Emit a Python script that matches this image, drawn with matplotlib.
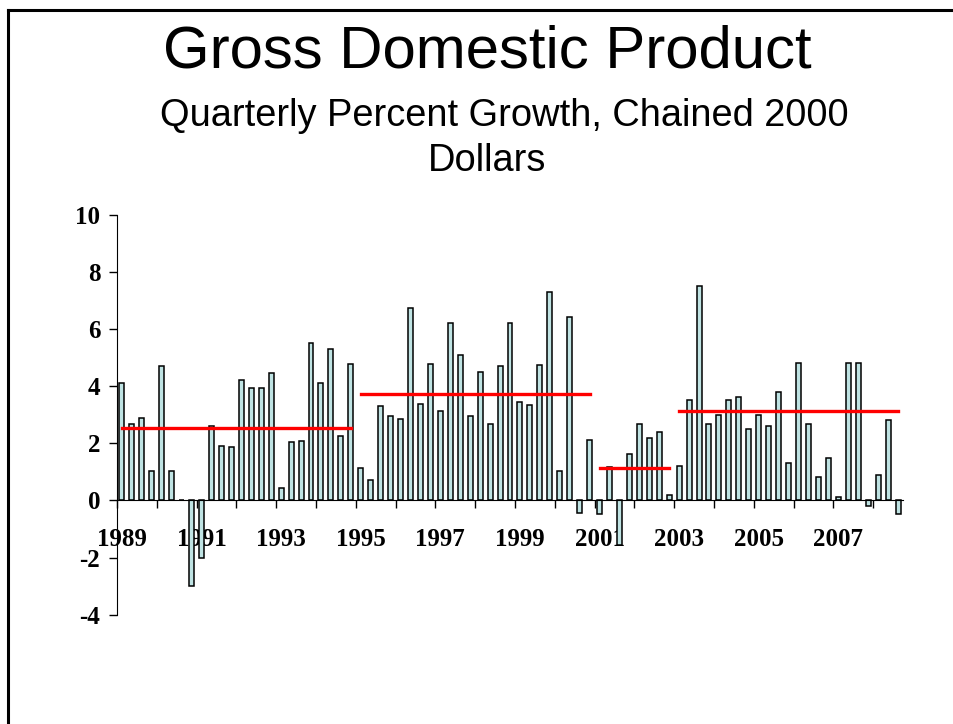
import numpy as np
import matplotlib.pyplot as plt
from matplotlib.lines import Line2D

# quarterly real GDP growth, 1989Q1 .. 2008Q3 (annualised %)
years = list(range(1989, 2009))
growth = [
    4.11, 2.66, 2.88, 1.03,   # 1989
    4.69, 1.03, 0.03, -3.00,  # 1990
    -2.03, 2.62, 1.91, 1.88,  # 1991
    4.20, 3.92, 3.95, 4.46,   # 1992
    0.45, 2.04, 2.07, 5.50,   # 1993
    4.11, 5.30, 2.26, 4.77,   # 1994
    1.12, 0.73, 3.31, 2.96,   # 1995
    2.84, 6.74, 3.39, 4.77,   # 1996
    3.12, 6.22, 5.08, 2.96,   # 1997
    4.50, 2.66, 4.70, 6.22,   # 1998
    3.43, 3.34, 4.73, 7.31,   # 1999
    1.04, 6.42, -0.45, 2.12,  # 2000
    -0.49, 1.18, -1.55, 1.62, # 2001
    2.69, 2.20, 2.39, 0.20,   # 2002
    1.20, 3.50, 7.49, 2.69,   # 2003
    3.00, 3.50, 3.61, 2.51,   # 2004
    3.00, 2.62, 3.80, 1.32,   # 2005
    4.80, 2.69, 0.82, 1.50,   # 2006
    0.13, 4.80, 4.80, -0.19,  # 2007
    0.89, 2.81, -0.49,        # 2008
]

# period averages: (first quarter index, last quarter index, mean)
period_start = [0, 24, 48, 56]
period_end = [23, 47, 55, 78]
period_mean = [2.54, 3.74, 1.12, 3.12]

yticks = [-4, -2, 0, 2, 4, 6, 8, 10]

fig = plt.figure(figsize=(9.54, 7.24), dpi=100)

# slide frame on top and left
fig.add_artist(Line2D([0.0085, 0.0085], [0, 1 - 10 / 724], color='black', lw=2.2))
fig.add_artist(Line2D([0.0085, 1], [1 - 10 / 724, 1 - 10 / 724], color='black', lw=2.2))

fig.text(487.5 / 954, 1 - 52 / 724, 'Gross Domestic Product', ha='center', va='center',
         fontsize=43.2, family='Liberation Sans')
fig.text(504 / 954, 1 - 116 / 724, 'Quarterly Percent Growth, Chained 2000', ha='center',
         va='center', fontsize=27.4, family='Liberation Sans')
fig.text(487.5 / 954, 1 - 161 / 724, 'Dollars', ha='center', va='center',
         fontsize=27.4, family='Liberation Sans')

ax = fig.add_axes([117 / 954, 1 - 614.7 / 724, 786 / 954, 400 / 724])

x = np.arange(len(growth)) + 0.5
ax.bar(x, growth, width=0.5, color='#BFE3E3', edgecolor='black', linewidth=1.1, zorder=2)

for s, e, m in zip(period_start, period_end, period_mean):
    ax.plot([x[s], x[e]], [m, m], color='red', lw=2.4, zorder=3)

ax.set_xlim(0, len(growth))
ax.set_ylim(-4, 10)

ax.spines['top'].set_visible(False)
ax.spines['right'].set_visible(False)
ax.spines['bottom'].set_position(('data', 0))
ax.spines['bottom'].set_zorder(4)

ax.set_yticks(yticks)
ax.set_yticklabels([str(t) for t in yticks], fontsize=18, fontweight='bold',
                   family='Liberation Serif')
ax.tick_params(axis='y', direction='out', length=6, width=1, pad=6)

# tick marks at year boundaries, labels every other year under the first quarter
ax.set_xticks(np.arange(0, len(growth) + 1, 4))
ax.set_xticklabels([])
ax.tick_params(axis='x', which='major', direction='out', length=6, width=1)
lab_years = years[::2]
ax.set_xticks([(y - 1989) * 4 + 0.5 for y in lab_years], minor=True)
ax.set_xticklabels([str(y) for y in lab_years], minor=True, fontsize=18,
                   fontweight='bold', family='Liberation Serif')
ax.tick_params(axis='x', which='minor', length=0, pad=20)

fig.savefig('out.png', dpi=100)
